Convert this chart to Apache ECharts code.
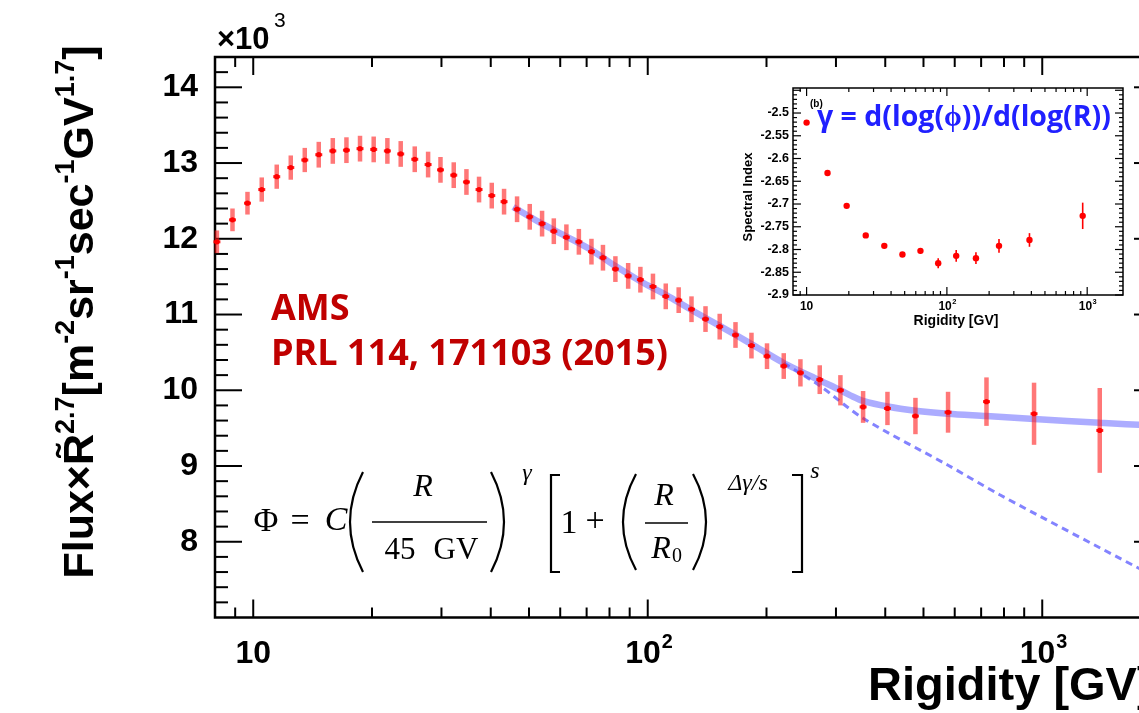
<!DOCTYPE html>
<html>
<head>
<meta charset="utf-8">
<title>AMS proton flux</title>
<script src="https://cdn.jsdelivr.net/npm/echarts@6/dist/echarts.min.js"></script>
<style>
html, body { margin: 0; padding: 0; background: #fff; }
#main { width: 1139px; height: 713px; }
</style>
</head>
<body>
<div id="main"></div>
<script>
// proton flux x R^2.7 (units of 10^3)
var rig = [8.09, 8.86, 9.67, 10.51, 11.47, 12.45, 13.51, 14.66, 15.91, 17.23,
  18.65, 20.2, 21.88, 23.65, 25.67, 27.75, 29.83, 32.23, 34.71, 37.36,
  40.24, 43.23, 46.64, 50.22, 53.97, 57.8, 62.2, 66.9, 72.0, 77.0,
  82.8, 89.2, 95.8, 103.1, 111.1, 119.8, 129.1, 140.1, 152.2, 166.9,
  183.2, 200.6, 221.2, 243.8, 272.9, 307.9, 351.5, 405.2, 477.1, 577.1,
  722.2, 953.3, 1399];
var flux = [11.96, 12.25, 12.47, 12.65, 12.82, 12.94, 13.04, 13.11, 13.16, 13.17,
  13.19, 13.18, 13.16, 13.12, 13.05, 12.98, 12.91, 12.84, 12.75, 12.65,
  12.57, 12.49, 12.39, 12.29, 12.2, 12.1, 12.02, 11.96, 11.83, 11.75,
  11.6, 11.51, 11.46, 11.37, 11.24, 11.19, 11.07, 10.94, 10.84, 10.73,
  10.59, 10.45, 10.32, 10.23, 10.14, 10.0, 9.78, 9.76, 9.66, 9.71,
  9.85, 9.69, 9.47];
var fluxErr = [0.15, 0.15, 0.15, 0.16, 0.16, 0.16, 0.16, 0.17, 0.17, 0.17,
  0.17, 0.17, 0.17, 0.17, 0.17, 0.17, 0.17, 0.17, 0.17, 0.17,
  0.17, 0.17, 0.17, 0.17, 0.17, 0.17, 0.17, 0.17, 0.17, 0.17,
  0.17, 0.17, 0.17, 0.17, 0.17, 0.17, 0.17, 0.17, 0.17, 0.17,
  0.17, 0.17, 0.17, 0.18, 0.19, 0.2, 0.21, 0.22, 0.24, 0.27,
  0.32, 0.41, 0.56];

// broken power law fit (band) and single power law (dashed)
var fitR = [45.6, 53.9, 62.2, 72.0, 82.8, 95.8, 111.1, 129.1, 152.2, 183.2, 221.2,
  272.9, 307.9, 327, 351.5, 405.2, 477.1, 577.1, 722.2, 953.3, 1399, 2000];
var fitV = [12.42, 12.2, 12.03, 11.85, 11.64, 11.44, 11.26, 11.06, 10.85, 10.61, 10.36,
  10.13, 10.0, 9.93, 9.86, 9.785, 9.73, 9.69, 9.66, 9.62, 9.57, 9.53];
var plR = [221.2, 272.9, 351.5, 577.1, 780.4, 1757, 2000];
var plV = [10.36, 10.06, 9.63, 9.01, 8.62, 7.65, 7.5];

// inset: spectral index
var idxR = [10, 14.1, 19.3, 26.4, 35.8, 48.2, 64.8, 86.7, 116.5, 161.1, 235.2, 387.8, 928.9];
var idxV = [-2.521, -2.632, -2.704, -2.769, -2.792, -2.811, -2.803, -2.83, -2.814, -2.819, -2.792, -2.779, -2.726];
var idxErr = [0.003, 0.003, 0.004, 0.004, 0.005, 0.005, 0.006, 0.011, 0.013, 0.013, 0.015, 0.015, 0.029];

// axis ranges and tick marks
var mainAx = {x0: 8, x1: 2000, y0: 7, y1: 14.4};
var insAx = {x0: 8, x1: 1800, y0: -2.9, y1: -2.445};
var xMajor = [10, 100, 1000];
var xMinor = [9, 20, 30, 40, 50, 60, 70, 80, 90, 200, 300, 400, 500, 600, 700, 800, 900];
var yMajorMain = [8, 9, 10, 11, 12, 13, 14];
var yMajorIns = [-2.9, -2.85, -2.8, -2.75, -2.7, -2.65, -2.6, -2.55, -2.5, -2.45];

function tickData(ax, yMaj, yStep, nSub) {
  var d = [];
  var i, j;
  yMaj.forEach(function (v) { d.push([ax.x0, v, 0]); });
  // minor ticks between majors, plus one major step below/above
  var base = yMaj[0] - (yMaj[1] - yMaj[0]);
  for (i = 0; i <= yMaj.length; i++) {
    var start = i === 0 ? base : yMaj[i - 1];
    for (j = 1; j < nSub; j++) {
      var v = +(start + j * yStep).toFixed(4);
      if (v > ax.y0 && v < ax.y1) d.push([ax.x0, v, 1]);
    }
  }
  xMajor.forEach(function (v) { d.push([v, ax.y0, 2]); });
  xMinor.forEach(function (v) { d.push([v, ax.y0, 3]); });
  return d;
}

function tickRenderer(ax, opt) {
  return function (params, api) {
    var xv = api.value(0), yv = api.value(1), kind = api.value(2);
    var kids = [];
    function ln(x1, y1, x2, y2) {
      kids.push({type: 'line', shape: {x1: x1, y1: y1, x2: x2, y2: y2},
        style: {stroke: '#000', lineWidth: opt.lw}});
    }
    function txt(x, y, s, size, align) {
      kids.push({type: 'text', x: x, y: y, style: {text: s, fontSize: size, fontWeight: 'bold',
        fontFamily: 'Liberation Sans', fill: '#000', align: align, verticalAlign: 'middle'}});
    }
    if (kind < 2) {
      var l = api.coord([ax.x0, yv]), r = api.coord([ax.x1, yv]);
      var len = kind === 0 ? opt.yMaj : opt.yMin;
      ln(l[0], l[1], l[0] + len, l[1]);
      ln(r[0], r[1], r[0] - len, r[1]);
    } else {
      var b = api.coord([xv, ax.y0]), t = api.coord([xv, ax.y1]);
      var len2 = kind === 2 ? opt.xMaj : opt.xMin;
      ln(b[0], b[1], b[0], b[1] - len2);
      ln(t[0], t[1], t[0], t[1] + len2);
      if (kind === 2) {
        var p = Math.round(Math.log10(xv));
        var ly = b[1] + opt.labGap;
        var fs = opt.labSize;
        if (p === 1) {
          txt(b[0], ly, '10', fs, 'center');
        } else {
          txt(b[0] - fs * 0.15, ly, '10', fs, 'center');
          txt(b[0] + fs * 0.44, ly - fs * 0.38, String(p), fs * 0.62, 'left');
        }
      }
    }
    return {type: 'group', children: kids};
  };
}

function pointRenderer(opt) {
  return function (params, api) {
    var x = api.value(0), y = api.value(1), e = api.value(2);
    var c = api.coord([x, y]);
    var hi = api.coord([x, y + e]), lo = api.coord([x, y - e]);
    var kids = [];
    kids.push({type: 'rect', shape: {x: c[0] - opt.bw / 2, y: hi[1], width: opt.bw, height: lo[1] - hi[1]},
      style: {fill: opt.barColor}});
    if (opt.cross) {
      kids.push({type: 'rect', shape: {x: c[0] - opt.cross / 2, y: c[1] - 1.5, width: opt.cross, height: 3},
        style: {fill: 'rgba(255,0,0,0.85)'}});
    }
    kids.push({type: 'circle', shape: {cx: c[0], cy: c[1], r: opt.r}, style: {fill: '#ff0000'}});
    return {type: 'group', children: kids};
  };
}

function zip(a, b, c) {
  return a.map(function (v, i) { return c ? [v, b[i], c[i]] : [v, b[i]]; });
}

var myChart = echarts.init(document.getElementById('main'));

var sansB = 'Liberation Sans';
var serif = 'Liberation Serif';

function fTxt(x, y, s, size, style, align) {
  return {type: 'text', x: x, y: y, z: 50, style: {text: s, fontSize: size, fontFamily: serif,
    fontStyle: style || 'normal', fill: '#000', align: align || 'center', verticalAlign: 'middle'}};
}
function paren(x1, cpx, yTop, yBot) {
  return {type: 'bezierCurve', z: 50, shape: {x1: x1, y1: yTop, x2: x1, y2: yBot, cpx1: cpx, cpy1: (yTop + yBot) / 2},
    style: {stroke: '#000', lineWidth: 2.2, fill: null}};
}
function bar(x1, x2, y) {
  return {type: 'line', z: 50, shape: {x1: x1, y1: y, x2: x2, y2: y}, style: {stroke: '#000', lineWidth: 1.6}};
}

var option = {
  backgroundColor: '#fff',
  animation: false,
  grid: [
    {left: 215, top: 57, width: 946, height: 560.5, outerBoundsMode: 'none', show: true,
      borderColor: '#000', borderWidth: 2.5, backgroundColor: 'transparent'},
    {left: 793, top: 88, width: 330, height: 207, outerBoundsMode: 'none', show: true,
      borderColor: '#000', borderWidth: 1.5, backgroundColor: '#fff'}
  ],
  xAxis: [
    {gridIndex: 0, type: 'log', logBase: 10, min: mainAx.x0, max: mainAx.x1,
      axisLine: {show: false}, axisTick: {show: false}, axisLabel: {show: false}, splitLine: {show: false}},
    {gridIndex: 1, type: 'log', logBase: 10, min: insAx.x0, max: insAx.x1,
      axisLine: {show: false}, axisTick: {show: false}, axisLabel: {show: false}, splitLine: {show: false}}
  ],
  yAxis: [
    {gridIndex: 0, type: 'value', min: mainAx.y0, max: mainAx.y1, interval: 1,
      axisLine: {show: false}, axisTick: {show: false}, splitLine: {show: false},
      axisLabel: {fontSize: 32, fontWeight: 'bold', fontFamily: sansB, color: '#000', margin: 17,
        formatter: function (v) { return (v >= 8 && v <= 14 && v === Math.round(v)) ? String(v) : ''; }}},
    {gridIndex: 1, type: 'value', min: insAx.y0, max: insAx.y1, interval: 0.05,
      axisLine: {show: false}, axisTick: {show: false}, splitLine: {show: false},
      axisLabel: {fontSize: 12.5, fontWeight: 'bold', fontFamily: sansB, color: '#000', margin: 4,
        formatter: function (v) { return v > -2.47 ? '' : String(+v.toFixed(2)); }}}
  ],
  series: [
    {
      type: 'custom', name: 'mainTicks', xAxisIndex: 0, yAxisIndex: 0, z: 3, silent: true,
      renderItem: tickRenderer(mainAx, {lw: 2, yMaj: 27, yMin: 13, xMaj: 18, xMin: 10, labGap: 37, labSize: 32}),
      data: tickData(mainAx, yMajorMain, 0.2, 5)
    },
    {
      type: 'line', name: 'fit', xAxisIndex: 0, yAxisIndex: 0, z: 2, smooth: 0.3, showSymbol: false,
      lineStyle: {color: 'rgba(90,90,255,0.5)', width: 6.5},
      data: zip(fitR, fitV)
    },
    {
      type: 'line', name: 'powerlaw', xAxisIndex: 0, yAxisIndex: 0, z: 2, smooth: 0.3, showSymbol: false,
      lineStyle: {color: 'rgba(100,100,255,0.8)', width: 3, type: [7, 5]},
      data: zip(plR, plV)
    },
    {
      type: 'custom', name: 'AMS', xAxisIndex: 0, yAxisIndex: 0, z: 4,
      renderItem: pointRenderer({bw: 4.5, barColor: 'rgba(255,20,20,0.58)', r: 2.6, cross: 7}),
      data: zip(rig, flux, fluxErr)
    },
    {
      type: 'custom', name: 'insetTicks', xAxisIndex: 1, yAxisIndex: 1, z: 3, silent: true,
      renderItem: tickRenderer(insAx, {lw: 1.2, yMaj: 8, yMin: 4, xMaj: 8, xMin: 4, labGap: 12, labSize: 12}),
      data: tickData(insAx, yMajorIns, 0.01, 5)
    },
    {
      type: 'custom', name: 'index', xAxisIndex: 1, yAxisIndex: 1, z: 4,
      renderItem: pointRenderer({bw: 1.6, barColor: '#ff0000', r: 3.2, cross: 0}),
      data: zip(idxR, idxV, idxErr)
    }
  ],
  graphic: [
    // axis titles
    {type: 'text', x: 78, y: 312, rotation: Math.PI / 2, z: 50, style: {
      text: '{n|Flux×R\u0303}{s|2.7}{n|[m}{s|-2}{n|sr}{s|-1}{n|sec}{s|-1}{n|GV}{s|1.7}{n|]}',
      align: 'center', verticalAlign: 'middle',
      rich: {
        n: {fontSize: 43, fontWeight: 'bold', fontFamily: sansB, fill: '#000', lineHeight: 50, verticalAlign: 'bottom'},
        s: {fontSize: 27, fontWeight: 'bold', fontFamily: sansB, fill: '#000', lineHeight: 50, verticalAlign: 'top'}
      }}},
    {type: 'text', x: 217, y: 40, z: 50, style: {text: '×10', fontSize: 31, fontWeight: 'bold', fontFamily: sansB,
      fill: '#000', align: 'left', verticalAlign: 'middle'}},
    {type: 'text', x: 274, y: 21, z: 50, style: {text: '3', fontSize: 21, fontFamily: sansB,
      fill: '#000', align: 'left', verticalAlign: 'middle'}},
    {type: 'text', x: 868, y: 687, z: 50, style: {text: 'Rigidity [GV]', fontSize: 47, fontWeight: 'bold',
      fontFamily: sansB, fill: '#000', align: 'left', verticalAlign: 'middle'}},
    // red label
    {type: 'text', x: 271, y: 310, z: 50, style: {text: 'AMS', fontSize: 36, fontWeight: 'bold',
      fontFamily: 'Open Sans', fill: '#c00000', align: 'left', verticalAlign: 'middle'}},
    {type: 'text', x: 271, y: 355, z: 50, style: {text: 'PRL 114, 171103 (2015)', fontSize: 36, fontWeight: 'bold',
      fontFamily: 'Open Sans', fill: '#c00000', align: 'left', verticalAlign: 'middle'}},
    // inset texts
    {type: 'text', x: 748, y: 197, rotation: Math.PI / 2, z: 50, style: {text: 'Spectral Index', fontSize: 13,
      fontWeight: 'bold', fontFamily: sansB, fill: '#000', align: 'center', verticalAlign: 'middle'}},
    {type: 'text', x: 956, y: 321, z: 50, style: {text: 'Rigidity [GV]', fontSize: 14, fontWeight: 'bold',
      fontFamily: sansB, fill: '#000', align: 'center', verticalAlign: 'middle'}},
    {type: 'text', x: 810, y: 104, z: 50, style: {text: '(b)', fontSize: 10, fontWeight: 'bold',
      fontFamily: sansB, fill: '#000', align: 'left', verticalAlign: 'middle'}},
    {type: 'text', x: 817, y: 118, z: 50, style: {text: 'γ = d(log(\u03d5))/d(log(R))', fontSize: 28.5, fontWeight: 'bold',
      fontFamily: 'Open Sans', fill: '#2020ff', align: 'left', verticalAlign: 'middle'}},
    // fit formula
    fTxt(266, 522, 'Φ', 34),
    fTxt(300, 522, '=', 34),
    fTxt(336, 521, 'C', 34, 'italic'),
    paren(363, 337, 472, 572),
    fTxt(423, 488, 'R', 32, 'italic'),
    bar(372, 487, 522),
    fTxt(400, 551, '45', 31),
    fTxt(456, 551, 'GV', 31),
    paren(491, 517, 472, 572),
    fTxt(527, 474, 'γ', 24, 'italic'),
    {type: 'polyline', z: 50, shape: {points: [[560, 475], [551, 475], [551, 572], [560, 572]]},
      style: {stroke: '#000', lineWidth: 2.2, fill: null}},
    fTxt(569, 524, '1', 34),
    fTxt(595, 522, '+', 34),
    paren(636, 610, 474, 570),
    fTxt(664, 497, 'R', 32, 'italic'),
    bar(645, 688, 523),
    fTxt(661, 550, 'R', 32, 'italic'),
    fTxt(677, 557, '0', 20),
    paren(693, 719, 474, 570),
    fTxt(748, 484, 'Δγ/s', 24, 'italic'),
    {type: 'polyline', z: 50, shape: {points: [[792, 475], [802, 475], [802, 572], [792, 572]]},
      style: {stroke: '#000', lineWidth: 2.2, fill: null}},
    fTxt(815, 472, 's', 24, 'italic')
  ]
};

myChart.setOption(option);
</script>
</body>
</html>
